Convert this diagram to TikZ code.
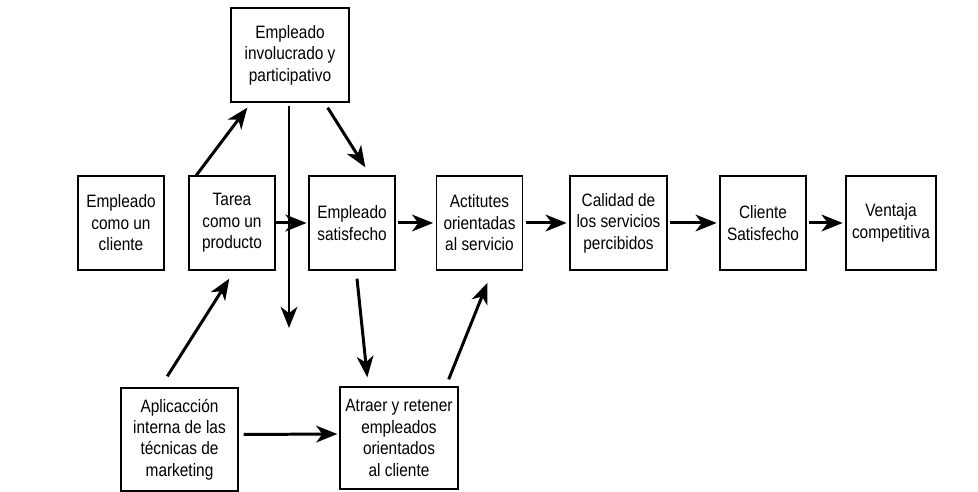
\documentclass[tikz,border=0pt]{standalone}
\usepackage{fontspec}
\setmainfont{Liberation Sans}[FakeStretch=0.86]
\usetikzlibrary{arrows.meta,calc}

\tikzset{
	caja/.style={draw, line width=0.8pt, align=center, inner sep=0pt,
		minimum width=1.72cm, minimum height=1.88cm,
		font=\fontsize{10.2}{12.2}\selectfont},
	flecha/.style={line width=1.7pt, -{Stealth[length=12pt,width=9.5pt,inset=3.5pt]}},
}

\begin{document}
\begin{tikzpicture}[x=0.02cm, y=-0.02cm]
		
		\useasboundingbox (0,0) rectangle (978,492);
		
		% Boxes, middle row
		\node[caja] (cli) at (121,223) {Empleado\\como un\\cliente};
		\node[caja] (tarea) at (232,223) {Tarea\\como un\\producto};
		\node[caja] (sat) at (352,223) {Empleado\\satisfecho};
		\node[caja] (act) at (479.5,223) {Actitutes\\orientadas\\al servicio};
		\node[caja, minimum width=1.94cm] (cal) at (618.5,223) {Calidad de\\los servicios\\percibidos};
		\node[caja] (csat) at (763,223) {Cliente\\Satisfecho};
		\node[caja, minimum width=1.8cm] (vent) at (891,223) {Ventaja\\competitiva};
		
		% Top and bottom boxes
		\node[caja, minimum width=2.36cm] (inv) at (290,55) {Empleado\\involucrado y\\participativo};
		\node[caja, minimum width=2.34cm, minimum height=2.06cm] (apl) at (179.5,439.5) {Aplicacción\\interna de las\\técnicas de\\marketing};
		\node[caja, minimum width=2.36cm, minimum height=2.04cm] (atr) at (399,438) {Atraer y retener\\empleados\\orientados\\al cliente};
		
		\coordinate (abajo) at (289,328);
		
		% Main chain
		\draw[flecha, shorten >=1pt] (tarea.east) -- (sat.west);
		\draw[flecha, shorten <=1.5pt, shorten >=1.5pt] (sat.east) -- (act.west);
		\draw[flecha, shorten <=1.5pt, shorten >=1.5pt] (act.east) -- (cal.west);
		\draw[flecha, shorten <=1.5pt, shorten >=1.5pt] (cal.east) -- (csat.west);
		\draw[flecha, shorten <=1.5pt, shorten >=1.5pt] (csat.east) -- (vent.west);
		
		% Arrows to and from the top box
		\draw[flecha] ($(tarea.north west)+(8,0)$) -- ($(inv.south west)+(17,5)$);
		\draw[flecha] ($(inv.south east)+(-22,5)$) -- ($(sat.north west)+(57,-8)$);
		\draw[flecha] ($(inv.south)+(-1,3)$) -- (abajo);
		
		% Arrows to and from the bottom boxes
		\draw[flecha] ($(apl.north west)+(47,-11)$) -- ($(tarea.south west)+(41,8)$);
		\draw[flecha] ($(sat.south)+(5,8)$) -- ($(atr.north west)+(28,-9)$);
		\draw[flecha] ($(atr.north east)+(-10,-7)$) -- ($(act.south)+(8,12)$);
		\draw[flecha] ($(apl.east)+(5,-5)$) -- ($(atr.west)+(-2,-4)$);
		
	\end{tikzpicture}
\end{document}
